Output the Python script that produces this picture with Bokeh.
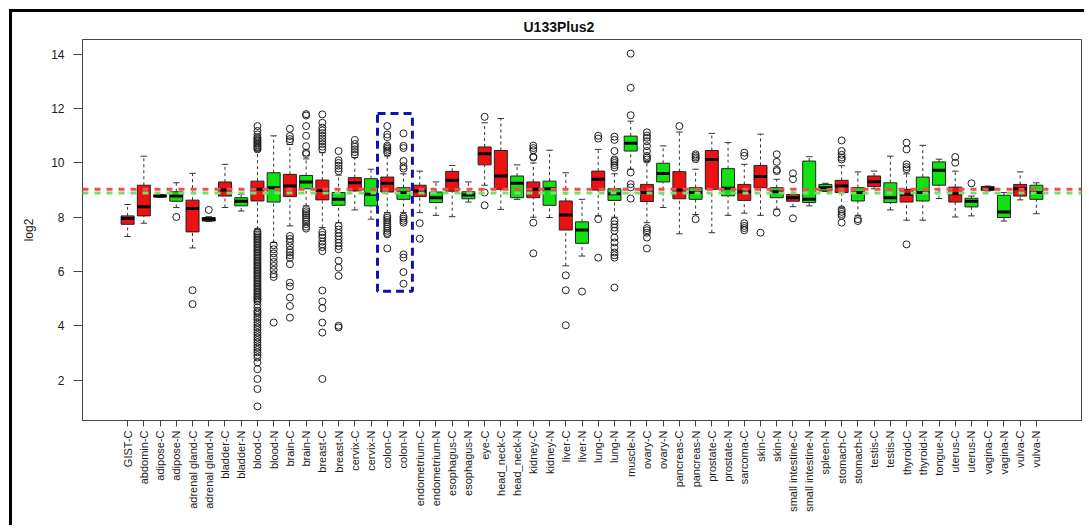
import math
from bokeh.plotting import figure
from bokeh.models import Range1d, FixedTicker, Span, BoxAnnotation, ColumnDataSource
from bokeh.embed import file_html
from bokeh.resources import INLINE

title_text = "U133Plus2"
y_label = "log2"
y_ticks = [2, 4, 6, 8, 10, 12, 14]

categories = [
    "GIST-C", "abdomin-C", "adipose-C", "adipose-N", "adrenal gland-C", "adrenal gland-N",
    "bladder-C", "bladder-N", "blood-C", "blood-N", "brain-C", "brain-N", "breast-C",
    "breast-N", "cervix-C", "cervix-N", "colon-C", "colon-N", "endometrium-C",
    "endometrium-N", "esophagus-C", "esophagus-N", "eye-C", "head_neck-C", "head_neck-N",
    "kidney-C", "kidney-N", "liver-C", "liver-N", "lung-C", "lung-N", "muscle-N",
    "ovary-C", "ovary-N", "pancreas-C", "pancreas-N", "prostate-C", "prostate-N",
    "sarcoma-C", "skin-C", "skin-N", "small intestine-C", "small intestine-N", "spleen-N",
    "stomach-C", "stomach-N", "testis-C", "testis-N", "thyroid-C", "thyroid-N", "tongue-N",
    "uterus-C", "uterus-N", "vagina-C", "vagina-N", "vulva-C", "vulva-N",
]

whisker_low = [
    7.29, 7.78, 8.74, 8.36, 6.87, 7.84, 8.36, 8.23, 7.56, 7.07, 7.68, 8.42, 7.62,
    7.80, 8.27, 7.93, 8.17, 8.17, 8.17, 8.07, 8.02, 8.56, 9.18, 8.29, 8.66,
    8.00, 7.99, 6.21, 6.57, 8.05, 8.00, 9.77, 7.80, 8.36, 7.39, 8.10, 7.43, 8.07,
    8.15, 8.07, 8.30, 8.39, 8.42, 8.95, 8.35, 8.07, 9.05, 8.27, 7.89, 7.89, 8.69,
    8.01, 8.05, 8.97, 7.86, 8.64, 8.13,
]
q1 = [
    7.74, 8.05, 8.75, 8.59, 7.46, 7.86, 8.78, 8.42, 8.60, 8.56, 8.76, 9.05, 8.64,
    8.44, 8.97, 8.42, 8.93, 8.66, 8.76, 8.54, 8.96, 8.68, 9.93, 9.03, 8.72,
    8.72, 8.44, 7.53, 7.04, 9.00, 8.62, 10.44, 8.58, 9.30, 8.68, 8.66, 9.03, 8.79,
    8.62, 9.09, 8.72, 8.59, 8.54, 8.97, 8.91, 8.60, 9.13, 8.54, 8.56, 8.60, 9.18,
    8.56, 8.38, 8.99, 7.99, 8.78, 8.66,
]
median = [
    7.95, 8.39, 8.78, 8.78, 8.32, 7.93, 9.00, 8.59, 9.03, 9.09, 9.15, 9.30, 8.99,
    8.66, 9.27, 8.85, 9.25, 8.91, 8.97, 8.72, 9.36, 8.82, 10.34, 9.52, 9.25,
    9.03, 9.05, 8.08, 7.53, 9.40, 8.87, 10.73, 8.91, 9.61, 9.00, 8.91, 10.13, 9.07,
    8.94, 9.50, 8.94, 8.72, 8.66, 9.09, 9.15, 8.91, 9.31, 8.72, 8.85, 8.91, 9.73,
    8.87, 8.59, 9.05, 8.19, 9.05, 8.91,
]
q3 = [
    8.05, 9.18, 8.82, 8.94, 8.63, 7.99, 9.30, 8.72, 9.33, 9.64, 9.58, 9.54, 9.37,
    8.91, 9.46, 9.42, 9.48, 9.09, 9.18, 8.93, 9.69, 8.94, 10.59, 10.46, 9.52,
    9.30, 9.33, 8.60, 7.83, 9.70, 9.05, 10.99, 9.21, 9.99, 9.68, 9.09, 10.46, 9.79,
    9.21, 9.91, 9.09, 8.84, 10.07, 9.21, 9.36, 9.09, 9.52, 9.27, 9.03, 9.48, 10.04,
    9.11, 8.70, 9.13, 8.81, 9.21, 9.18,
]
whisker_high = [
    8.47, 10.25, 8.84, 9.27, 9.62, 8.02, 9.95, 8.85, 10.45, 11.00, 10.68, 10.15, 10.38,
    9.55, 10.20, 9.77, 10.26, 9.60, 9.70, 9.30, 9.91, 9.30, 11.48, 11.64, 9.93,
    10.00, 10.47, 9.64, 8.66, 10.50, 9.60, 11.54, 10.05, 10.63, 11.14, 9.77, 11.09, 10.75,
    9.95, 11.06, 9.40, 9.05, 10.23, 9.25, 9.90, 9.67, 9.70, 10.25, 9.60, 10.65, 10.14,
    9.70, 8.78, 9.15, 8.91, 9.67, 9.27,
]
outliers = [
    [],
    [],
    [],
    [8.01],
    [5.31, 4.80],
    [8.27],
    [],
    [],
    [10.50, 10.55, 10.60, 10.65, 10.70, 10.75, 10.80, 10.85, 10.90, 10.95, 11.05, 11.18, 11.36,
     7.48, 7.42, 7.36, 7.30, 7.24, 7.18, 7.12, 7.06, 7.00, 6.94, 6.88, 6.82, 6.76, 6.70,
     6.64, 6.58, 6.52, 6.46, 6.40, 6.34, 6.28, 6.22, 6.16, 6.10, 6.04, 5.98, 5.92, 5.86,
     5.80, 5.74, 5.68, 5.62, 5.56, 5.50, 5.44, 5.38, 5.32, 5.26, 5.20, 5.14, 5.08, 5.02,
     4.96, 4.90, 4.78, 4.67, 4.55, 4.49, 4.40, 4.31, 4.22, 4.12, 4.03, 3.94, 3.85, 3.75,
     3.66, 3.57, 3.48, 3.39, 3.29, 3.20, 3.11, 3.02, 2.92, 2.83, 2.65, 2.40, 2.04, 1.67, 1.03],
    [6.97, 6.82, 6.67, 6.51, 6.35, 6.21, 6.06, 5.90, 5.80, 4.12],
    [10.80, 10.88, 10.99, 11.26, 7.31, 7.20, 7.10, 6.94, 6.80, 6.70, 6.60, 6.50, 6.27,
     5.59, 5.45, 5.04, 4.73, 4.30],
    [10.33, 10.38, 10.62, 11.00, 11.36, 11.75, 11.80, 8.30, 8.22, 8.15, 8.08, 8.00, 7.93,
     7.85, 7.75, 7.65, 7.58],
    [10.50, 10.60, 10.70, 10.80, 10.90, 11.00, 11.10, 11.20, 11.30, 11.48, 11.79,
     7.45, 7.35, 7.25, 7.10, 7.00, 6.90, 6.75, 5.30, 4.90, 4.65, 4.12, 3.75, 2.04],
    [9.70, 9.80, 9.90, 10.00, 10.10, 10.44, 7.68, 7.55, 7.42, 7.30, 7.18, 7.06, 6.94,
     6.82, 6.40, 6.14, 5.84, 4.00, 3.94],
    [10.30, 10.40, 10.50, 10.60, 10.70, 10.85],
    [],
    [10.38, 10.45, 10.52, 10.58, 10.64, 10.95, 11.05, 11.36, 8.05, 7.98, 7.90, 7.82, 7.74,
     7.66, 7.58, 7.50, 7.42, 7.37, 6.85],
    [9.79, 9.88, 10.07, 10.55, 10.63, 11.09, 8.02, 7.95, 7.87, 7.80, 6.63, 6.51, 5.98, 5.55],
    [7.78, 7.21],
    [],
    [],
    [],
    [11.70, 8.91, 8.44],
    [],
    [],
    [10.20, 10.23, 10.47, 10.55, 10.64, 7.80, 6.67],
    [],
    [5.86, 5.31, 4.02],
    [5.26],
    [10.90, 11.00, 7.93, 6.51],
    [9.83, 9.92, 10.00, 10.07, 10.13, 10.44, 10.85, 10.97, 7.86, 7.74, 7.62, 7.50, 7.25,
     7.07, 6.88, 6.70, 6.60, 6.51, 5.41],
    [11.76, 12.77, 14.03, 9.65, 9.22, 9.10, 8.69],
    [10.13, 10.20, 10.26, 10.44, 10.62, 10.80, 10.93, 11.01, 11.13, 7.60, 7.52, 7.43, 7.25,
     6.85],
    [],
    [11.36],
    [10.14, 10.20, 10.26, 10.32, 7.93],
    [],
    [],
    [10.26, 10.38, 7.78, 7.68, 7.60, 7.52],
    [7.43],
    [9.70, 9.75, 10.04, 10.32, 8.17],
    [9.40, 9.62, 7.96],
    [],
    [],
    [10.13, 10.20, 10.30, 10.44, 10.83, 8.29, 8.20, 8.12, 8.05, 7.80],
    [7.93, 7.86],
    [],
    [],
    [9.77, 9.85, 9.95, 10.50, 10.75, 7.00],
    [],
    [],
    [10.01, 10.22],
    [9.25],
    [],
    [],
    [],
    [],
]

cancer_mean = 9.03
normal_mean = 8.89
highlight = ["colon-C", "colon-N"]

red = "#EE1111"
green = "#11E011"

n = len(categories)
xs = list(range(1, n + 1))
fills = [red if c.endswith("-C") else green for c in categories]

all_vals = whisker_low + whisker_high + [v for o in outliers for v in o]
ymin, ymax = min(all_vals), max(all_vals)
ypad = 0.04 * (ymax - ymin)
xpad = 0.04 * n

p = figure(
    width=1075, height=516,
    x_range=Range1d(0.5 - xpad, n + 0.5 + xpad),
    y_range=Range1d(ymin - ypad, ymax + ypad),
    output_backend="svg", toolbar_location=None,
    min_border_left=70, min_border_right=6, min_border_top=26, min_border_bottom=108,
    background_fill_color="white", border_fill_color="white",
)
p.styles = {"margin-left": "9px", "margin-top": "9px",
            "border-left": "3px solid black", "border-top": "3px solid black"}

p.title.text = title_text
p.title.align = "left"
p.title.offset = 441
p.title.standoff = 9
p.title.text_font = "Liberation Sans"
p.title.text_font_size = "14px"
p.title.text_font_style = "bold"
p.title.text_color = "#111111"

p.xgrid.visible = False
p.ygrid.visible = False
p.outline_line_color = "#444444"
p.outline_line_width = 1

box_w = 0.8
cap_w = 0.4
src = ColumnDataSource(dict(
    x=xs, lo=whisker_low, q1=q1, med=median, q3=q3, hi=whisker_high, fill=fills,
    xl=[x - box_w / 2 for x in xs], xr=[x + box_w / 2 for x in xs],
    cl=[x - cap_w / 2 for x in xs], cr=[x + cap_w / 2 for x in xs],
))

# whiskers
p.segment(x0="x", y0="q3", x1="x", y1="hi", source=src, line_color="#333333",
          line_dash="3 3", line_width=1)
p.segment(x0="x", y0="lo", x1="x", y1="q1", source=src, line_color="#333333",
          line_dash="3 3", line_width=1)
p.segment(x0="cl", y0="hi", x1="cr", y1="hi", source=src, line_color="#333333", line_width=1)
p.segment(x0="cl", y0="lo", x1="cr", y1="lo", source=src, line_color="#333333", line_width=1)
# boxes
p.vbar(x="x", width=box_w, bottom="q1", top="q3", source=src, fill_color="fill",
       line_color="#222222", line_width=1)
p.segment(x0="xl", y0="med", x1="xr", y1="med", source=src, line_color="black", line_width=3)

# outliers
ox, oy = [], []
for x, o in zip(xs, outliers):
    for v in o:
        ox.append(x)
        oy.append(v)
p.scatter(ox, oy, marker="circle", size=7, fill_color=None, line_color="#222222", line_width=1)

# reference lines
p.add_layout(Span(location=cancer_mean, dimension="width", line_color="#F05050",
                  line_dash="6 6", line_width=3))
p.add_layout(Span(location=normal_mean, dimension="width", line_color="#70E070",
                  line_dash="6 6", line_width=3))

# highlight box
hi_idx = [categories.index(c) + 1 for c in highlight]
hi_vals = [v for c in highlight for v in outliers[categories.index(c)]]
p.add_layout(BoxAnnotation(left=min(hi_idx) - 0.6, right=max(hi_idx) + 0.55,
                           bottom=min(hi_vals) - 0.28, top=max(hi_vals) + 0.46,
                           fill_alpha=0, line_alpha=1.0, line_color="#0A14B4",
                           line_width=3, line_dash="8 5"))

# axes
xa = p.xaxis[0]
xa.ticker = FixedTicker(ticks=xs)
xa.major_label_overrides = {x: c for x, c in zip(xs, categories)}
xa.major_label_orientation = math.pi / 2
xa.major_label_text_font = "Liberation Sans"
xa.major_label_text_font_size = "11px"
xa.major_label_text_color = "#1a1a1a"
xa.major_tick_out = 6
xa.major_tick_in = 0
xa.minor_tick_out = 0
xa.minor_tick_in = 0
xa.major_label_standoff = 4
xa.axis_line_color = "#444444"
xa.major_tick_line_color = "#444444"

ya = p.yaxis[0]
ya.ticker = FixedTicker(ticks=y_ticks)
ya.major_label_text_font = "Liberation Sans"
ya.major_label_text_font_size = "12px"
ya.major_label_text_color = "#1a1a1a"
ya.major_tick_out = 9
ya.major_tick_in = 0
ya.minor_tick_out = 0
ya.minor_tick_in = 0
ya.major_label_standoff = 9
ya.axis_label = y_label
ya.axis_label_text_font = "Liberation Sans"
ya.axis_label_text_font_size = "12px"
ya.axis_label_text_font_style = "normal"
ya.axis_label_text_color = "#1a1a1a"
ya.axis_label_standoff = 12
ya.axis_line_color = "#444444"
ya.major_tick_line_color = "#444444"

open("out.html", "w").write(file_html(p, INLINE))
